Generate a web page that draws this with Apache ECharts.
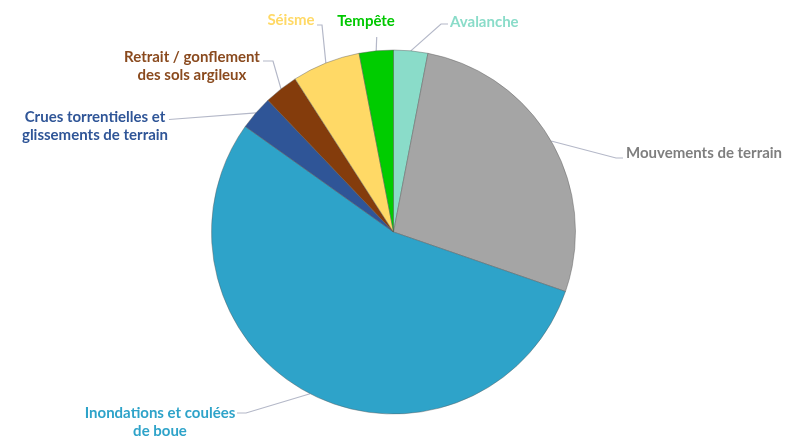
<!DOCTYPE html>
<html>
<head>
<meta charset="utf-8">
<script src="https://cdn.jsdelivr.net/npm/echarts@6/dist/echarts.min.js"></script>
<style>
html,body{margin:0;padding:0;background:#fff;}
#chart{width:785px;height:438px;}
</style>
</head>
<body>
<div id="chart"></div>
<script>
// Data
var categories = ['Avalanche', 'Mouvements de terrain', 'Inondations et coulées\nde boue',
  'Crues torrentielles et\nglissements de terrain', 'Retrait / gonflement\ndes sols argileux',
  'Séisme', 'Tempête'];
var values = [1, 9, 18, 1, 1, 2, 1];

// Styles
var sliceColors = ['#8adcc9', '#a5a5a5', '#2ea3c9', '#2f5597', '#843c0c', '#ffd966', '#00cc00'];
var textColors = ['#8adcc9', '#7f7f7f', '#2ea3c9', '#2f5597', '#8a4a1e', '#ffd966', '#00c800'];
// label layout: text centre (x,y), alignment, leader-line bend points
var labelPos = [
  {x: 450, y: 22, align: 'left', pts: [[441, 24], [448, 24]]},
  {x: 704, y: 153, align: 'center', pts: [[616, 158], [623, 158]]},
  {x: 160, y: 422, align: 'center', pts: [[246, 413], [237, 413]]},
  {x: 95, y: 126, align: 'center', pts: [[169, 119.5]]},
  {x: 192, y: 66, align: 'center', pts: [[273, 61], [263, 61]]},
  {x: 291, y: 20, align: 'center', pts: [[322, 25], [317, 25]]},
  {x: 366, y: 21, align: 'center', pts: [[376.7, 37]]}
];

var chart = echarts.init(document.getElementById('chart'));
var data = categories.map(function (c, i) {
  return {
    name: c,
    value: values[i],
    itemStyle: {color: sliceColors[i]},
    label: {color: textColors[i]}
  };
});

chart.setOption({
  animation: false,
  backgroundColor: '#ffffff',
  series: [{
    type: 'pie',
    center: [393.5, 232],
    radius: [0, 182],
    startAngle: 90,
    clockwise: true,
    avoidLabelOverlap: false,
    data: data,
    itemStyle: {borderColor: 'rgba(90,90,90,0.55)', borderWidth: 0.8},
    label: {
      show: true,
      position: 'outside',
      fontFamily: 'Lato',
      fontWeight: 'bold',
      fontSize: 15,
      lineHeight: 17.5
    },
    labelLine: {
      show: true,
      length: 20,
      length2: 10,
      lineStyle: {color: '#b4b8c8', width: 1.2}
    },
    labelLayout: function (params) {
      var p = labelPos[params.dataIndex];
      var anchor = params.labelLinePoints ? params.labelLinePoints[0] : null;
      var pts = anchor ? [anchor].concat(p.pts) : null;
      var res = {x: p.x, y: p.y, align: p.align, verticalAlign: 'middle'};
      if (pts) {
        if (pts.length === 2) pts.push(pts[1]);
        res.labelLinePoints = pts;
      }
      return res;
    }
  }]
});
</script>
</body>
</html>
